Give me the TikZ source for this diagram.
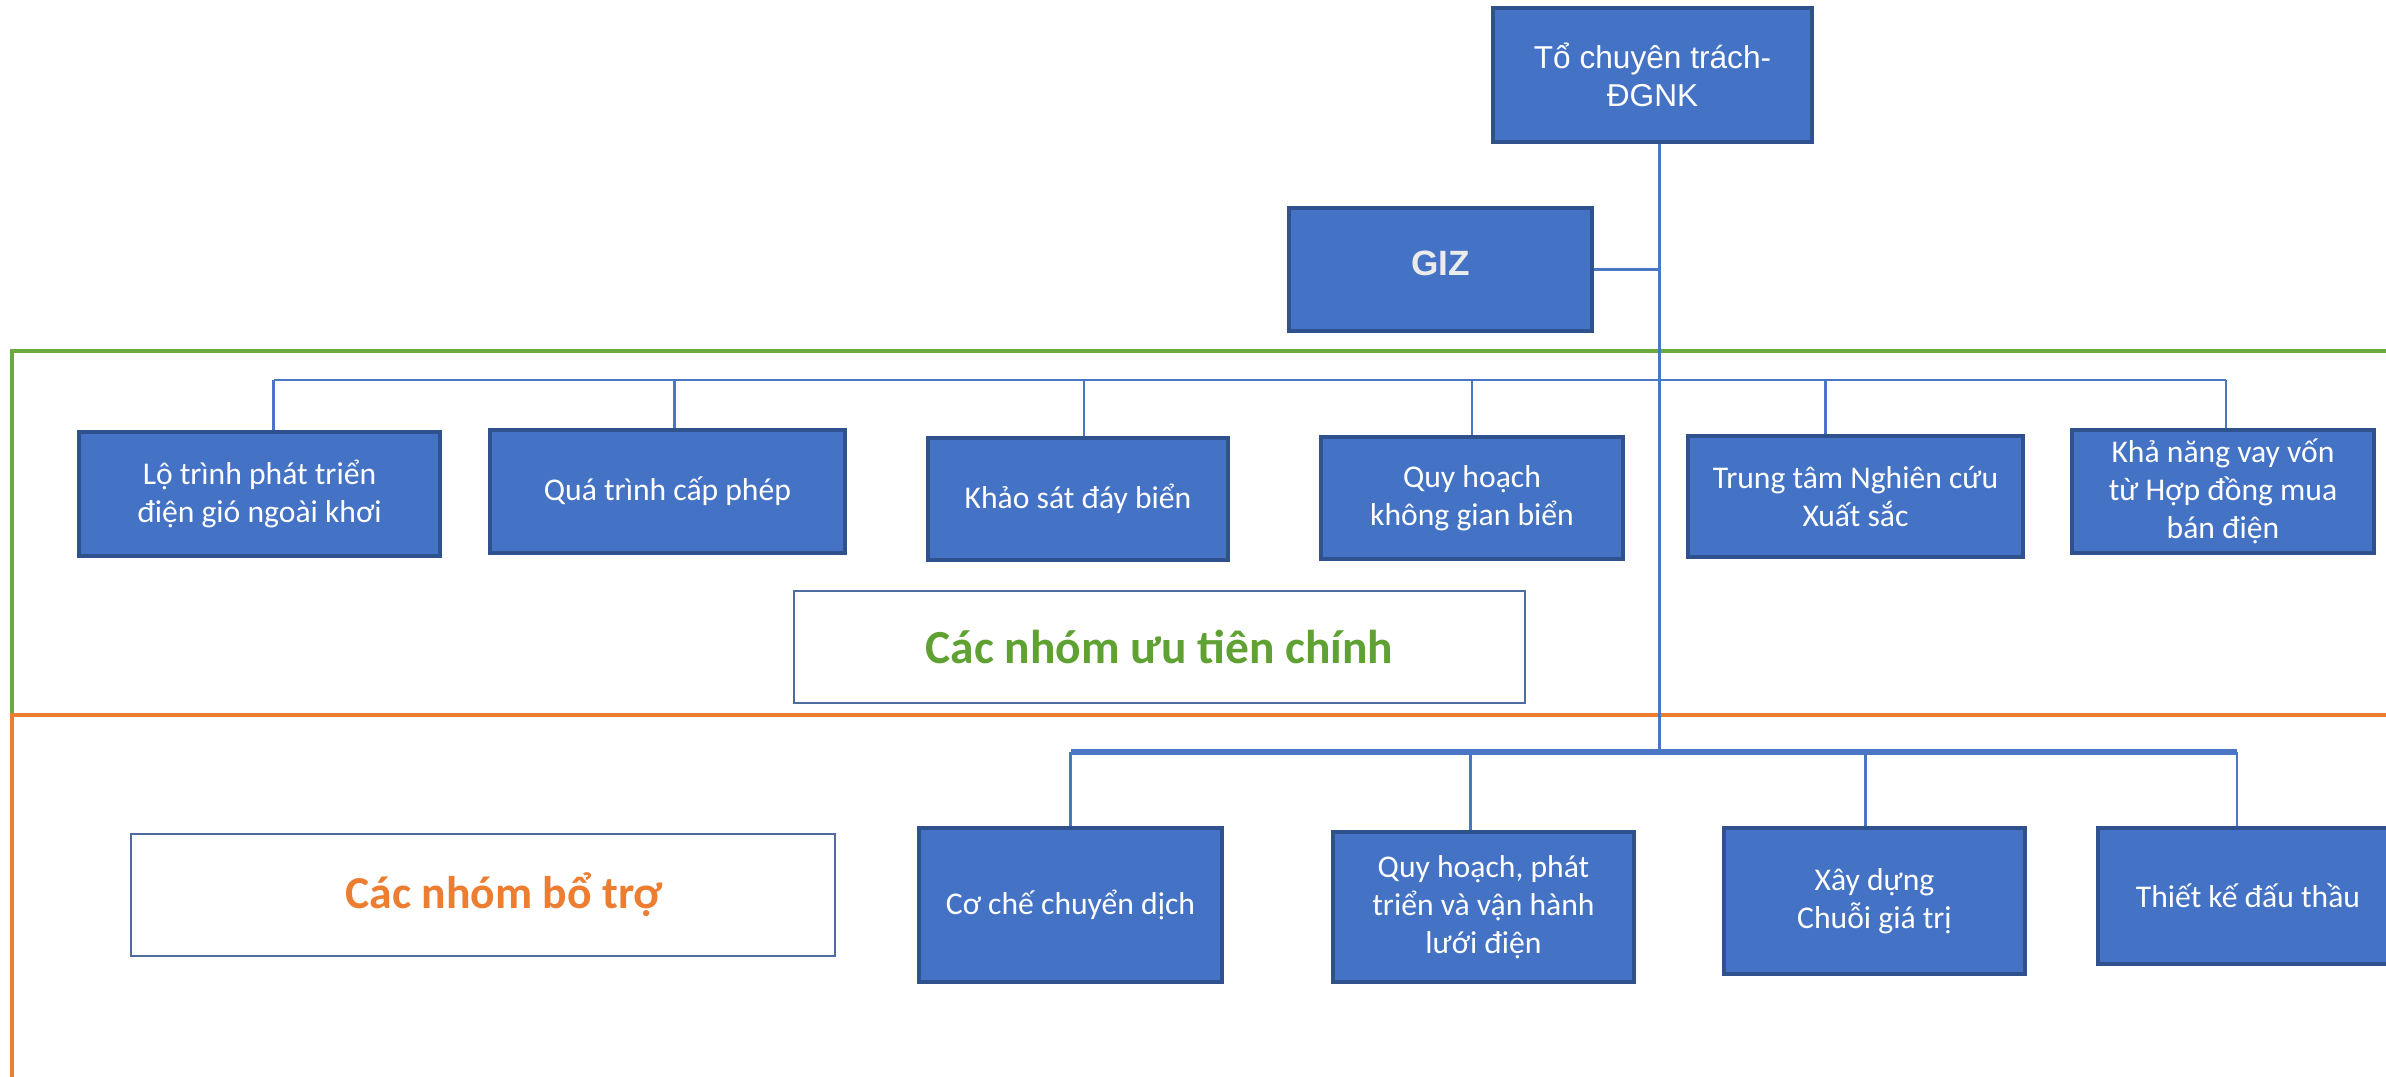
\documentclass[tikz,border=0pt]{standalone}
\usepackage{fontspec}
\setmainfont{Carlito}
\newfontfamily\arialfont{Liberation Sans}
\usepackage{tikz}
\definecolor{boxblue}{HTML}{4472C4}
\definecolor{edgeblue}{HTML}{2F528F}
\definecolor{lineblue}{HTML}{4A76C6}
\definecolor{framegreen}{HTML}{6AA840}
\definecolor{textgreen}{HTML}{5FA132}
\definecolor{frameorange}{HTML}{ED7D31}
\tikzset{
    unit/.style={draw=edgeblue,line width=0.9pt,fill=boxblue,text=white,align=center,
        font=\fontsize{9}{10.8}\selectfont,inner sep=0pt},
    tag/.style={draw=edgeblue!85,line width=0.8pt,fill=white,align=center,
        font=\fontsize{13}{15}\selectfont\bfseries,inner sep=0pt},
    link/.style={draw=lineblue,line width=0.7pt},
    trunk/.style={draw=lineblue,line width=1.1pt},
}

\begin{document}
\begin{tikzpicture}
            \useasboundingbox (0,0) rectangle (23.86,-10.76);
            \draw[framegreen,line width=1.4pt] (0.12,-3.51) rectangle (24.3,-7.15);
            \draw[frameorange,line width=1.4pt] (0.12,-7.15) rectangle (24.3,-11.2);
            \node[unit,minimum width=3.19cm,minimum height=1.34cm,font=\arialfont\fontsize{9}{10.8}\selectfont] (top) at (16.525,-0.75) {Tổ chuyên trách-\\ĐGNK};
            \node[unit,minimum width=3.03cm,minimum height=1.23cm,text=black!8,font=\arialfont\fontsize{10}{12}\selectfont\bfseries] (giz) at (14.405,-2.695) {\raisebox{0.12cm}{GIZ}};
            \node[unit,minimum width=3.61cm,minimum height=1.24cm] (p1) at (2.595,-4.94) {Lộ trình phát triển\\điện gió ngoài khơi};
            \node[unit,minimum width=3.55cm,minimum height=1.23cm] (p2) at (6.675,-4.915) {Quá trình cấp phép};
            \node[unit,minimum width=3.00cm,minimum height=1.22cm] (p3) at (10.78,-4.99) {Khảo sát đáy biển};
            \node[unit,minimum width=3.02cm,minimum height=1.22cm] (p4) at (14.72,-4.98) {Quy hoạch\\không gian biển};
            \node[unit,minimum width=3.35cm,minimum height=1.21cm] (p5) at (18.555,-4.965) {Trung tâm Nghiên cứu\\Xuất sắc};
            \node[unit,minimum width=3.02cm,minimum height=1.23cm] (p6) at (22.23,-4.915) {Khả năng vay vốn\\từ Hợp đồng mua\\bán điện};
            \node[tag,minimum width=7.31cm,minimum height=1.12cm,text=textgreen,font=\fontsize{13.5}{15}\selectfont\bfseries] (prio) at (11.595,-6.47) {Các nhóm ưu tiên chính};
            \node[tag,minimum width=7.04cm,minimum height=1.22cm,text=frameorange] (supp) at (4.83,-8.95) {\hspace{0.42cm}Các nhóm bổ trợ};
            \node[unit,minimum width=3.03cm,minimum height=1.54cm] (s1) at (10.705,-9.05) {Cơ chế chuyển dịch};
            \node[unit,minimum width=3.01cm,minimum height=1.50cm] (s2) at (14.835,-9.07) {Quy hoạch, phát\\triển và vận hành\\lưới điện};
            \node[unit,minimum width=3.01cm,minimum height=1.46cm] (s3) at (18.745,-9.01) {Xây dựng\\Chuỗi giá trị};
            \node[unit,minimum width=3.00cm,minimum height=1.36cm] (s4) at (22.48,-8.96) {Thiết kế đấu thầu};
            \coordinate (pbus) at (0,-3.80);
            \coordinate (sbus) at (0,-7.52);
            \coordinate (tk) at ([xshift=0.7mm]top.south);
            \draw[link] ([xshift=1.4mm]p1.north |- pbus) -- ([xshift=0.3mm]p6.north |- pbus);
            \draw[link] ([xshift=1.4mm]p1.north) -- ([xshift=1.4mm]p1.north |- pbus);
            \draw[link] ([xshift=0.7mm]p2.north) -- ([xshift=0.7mm]p2.north |- pbus);
            \draw[link] ([xshift=0.6mm]p3.north) -- ([xshift=0.6mm]p3.north |- pbus);
            \draw[link] (p4.north) -- (p4.north |- pbus);
            \draw[link] ([xshift=-3mm]p5.north) -- ([xshift=-3mm]p5.north |- pbus);
            \draw[link] ([xshift=0.3mm]p6.north) -- ([xshift=0.3mm]p6.north |- pbus);
            \draw[trunk] (tk) -- (tk |- sbus);
            \draw[link] (giz.east) -- (giz.east -| tk);
            \draw[trunk,line width=1.5pt] (s1.north |- sbus) -- ([xshift=-1.1mm]s4.north |- sbus);
            \draw[link] (s1.north) -- (s1.north |- sbus);
            \draw[link] ([xshift=-1.3mm]s2.north) -- ([xshift=-1.3mm]s2.north |- sbus);
            \draw[link] ([xshift=-0.9mm]s3.north) -- ([xshift=-0.9mm]s3.north |- sbus);
            \draw[link] ([xshift=-1.1mm]s4.north) -- ([xshift=-1.1mm]s4.north |- sbus);
        \end{tikzpicture}
\end{document}
